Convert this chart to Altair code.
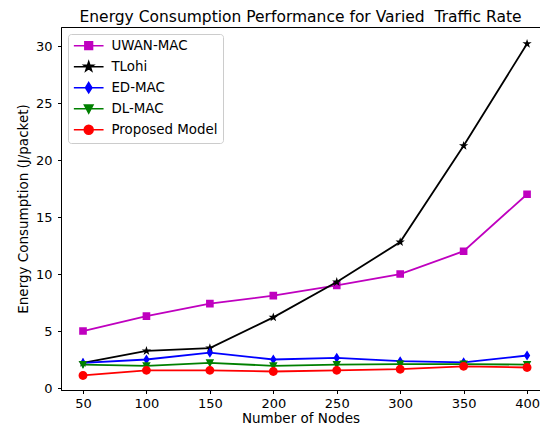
import math
import altair as alt
import pandas as pd

nodes = [50, 100, 150, 200, 250, 300, 350, 400]
series_names = ["UWAN-MAC", "TLohi", "ED-MAC", "DL-MAC", "Proposed Model"]
uwan_mac = [5.0, 6.3, 7.4, 8.1, 9.0, 10.0, 12.0, 17.0]
tlohi = [2.2, 3.25, 3.5, 6.2, 9.3, 12.8, 21.25, 30.2]
ed_mac = [2.2, 2.5, 3.1, 2.5, 2.65, 2.35, 2.25, 2.85]
dl_mac = [2.05, 1.95, 2.2, 1.95, 2.05, 2.1, 2.1, 2.05]
proposed = [1.1, 1.55, 1.55, 1.45, 1.55, 1.65, 1.9, 1.8]

colors = ["#bf00bf", "#000000", "#0000ff", "#008000", "#ff0000"]

values = [uwan_mac, tlohi, ed_mac, dl_mac, proposed]
rows = []
for name, vals in zip(series_names, values):
    for n, v in zip(nodes, vals):
        rows.append({"series": name, "nodes": n, "energy": v})
df = pd.DataFrame(rows)

# marker shapes (unit square paths), each with a legend line segment
seg = "M-3.5,0H3.5"
def star_path(R=1.15, r=0.45):
    pts = []
    for k in range(10):
        ang = math.radians(-90 + k * 36)
        rad = R if k % 2 == 0 else r
        pts.append(f"{rad*math.cos(ang):.3f},{rad*math.sin(ang):.3f}")
    return "M" + "L".join(pts) + "Z"

shapes = [
    "M-0.9,-0.9H0.9V0.9H-0.9Z",
    star_path(),
    "M0,-1.2L0.75,0L0,1.2L-0.75,0Z",
    "M-1,-0.85L1,-0.85L0,1.05Z",
    "M1.05,0A1.05,1.05 0 1,1 -1.05,0A1.05,1.05 0 1,1 1.05,0Z",
]
shapes = [s + seg for s in shapes]

xs = alt.Scale(domain=[32.66, 410.2], nice=False, zero=False)
ys = alt.Scale(domain=[-0.175, 31.67], nice=False, zero=False)
cscale = alt.Scale(domain=series_names, range=colors)
sscale = alt.Scale(domain=series_names, range=shapes)

legend = alt.Legend(
    title=None, orient="none", legendX=7, legendY=7,
    labelFontSize=13.4, labelFont="DejaVu Sans", labelColor="#000000",
    symbolSize=72, symbolStrokeWidth=1.6, symbolOffset=9, labelOffset=16,
    rowPadding=5, padding=5, strokeColor="#cccccc", cornerRadius=3,
    fillColor="rgba(255,255,255,0.8)",
)

x_enc = alt.X("nodes:Q", scale=xs, title="Number of Nodes",
              axis=alt.Axis(values=nodes))
y_enc = alt.Y("energy:Q", scale=ys, title="Energy Consumption (J/packet)",
              axis=alt.Axis(values=[0, 5, 10, 15, 20, 25, 30]))

layers = []
for name, col in zip(series_names, colors):
    base = alt.Chart(df).transform_filter(alt.datum.series == name)
    line = base.mark_line(strokeWidth=1.8).encode(
        x=x_enc, y=y_enc,
        color=alt.value(col),
    )
    pts = base.mark_point(filled=True, size=72, opacity=1).encode(
        x=x_enc, y=y_enc,
        color=alt.Color("series:N", scale=cscale, legend=legend),
        stroke=alt.Stroke("series:N", scale=cscale, legend=legend),
        shape=alt.Shape("series:N", scale=sscale, legend=legend),
        strokeWidth=alt.value(0),
    )
    layers += [line, pts]

chart = alt.layer(*layers).properties(
    width=479, height=363,
    padding={"left": 53, "top": 19, "right": 0, "bottom": 36},
    autosize=alt.AutoSizeParams(type="none"),
    title=alt.TitleParams(
        "Energy Consumption Performance for Varied\u00a0 Traffic Rate",
        fontSize=15.5, font="DejaVu Sans", fontWeight="normal",
        anchor="middle", offset=2, color="#000000",
    ),
).configure_view(
    stroke="#000000", strokeWidth=1,
).configure_axis(
    grid=False, domainColor="#000000", tickColor="#000000",
    tickSize=3.5, labelFontSize=13, labelFont="DejaVu Sans",
    labelColor="#000000", titleFont="DejaVu Sans", titleFontSize=13.5,
    titleFontWeight="normal", titleColor="#000000",
).configure_axisY(titlePadding=5, labelPadding=5.5).configure_axisX(
    titlePadding=1, labelPadding=4)

chart.save("out.html", embed_options={"renderer": "svg", "actions": False})
